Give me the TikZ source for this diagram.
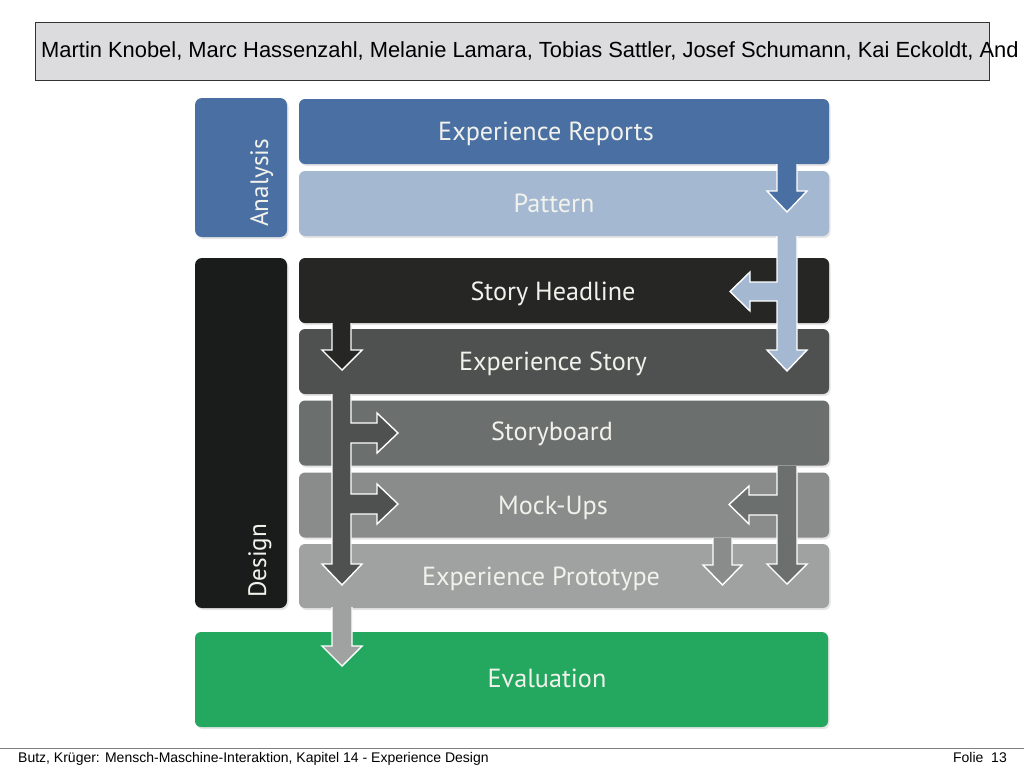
\documentclass[tikz,border=0pt]{standalone}
\usepackage{fontspec}
\setmainfont{Liberation Sans}
\newfontfamily\diagfont{PT Sans}
\usetikzlibrary{shadows, calc}
\definecolor{reportblue}{RGB}{74,111,163}
\definecolor{patternblue}{RGB}{164,185,209}
\definecolor{headlinegray}{RGB}{38,39,37}
\definecolor{storygray}{RGB}{78,81,80}
\definecolor{boardgray}{RGB}{107,111,110}
\definecolor{mockgray}{RGB}{137,140,139}
\definecolor{protogray}{RGB}{160,162,161}
\definecolor{designblack}{RGB}{26,28,27}
\definecolor{evalgreen}{RGB}{36,168,96}
\definecolor{titlegray}{RGB}{220,220,222}
\definecolor{labelwhite}{RGB}{242,242,236}

\begin{document}
\begin{tikzpicture}[x=1pt, y=-1pt,
    stage/.style={rounded corners=6pt, inner sep=0pt, minimum width=530pt, minimum height=65pt,
        drop shadow={opacity=0.2, shadow xshift=1.5pt, shadow yshift=-2pt}},
    phase/.style={rounded corners=7pt, inner sep=0pt, minimum width=92pt,
        drop shadow={opacity=0.2, shadow xshift=1.5pt, shadow yshift=-2pt}},
    stagelbl/.style={inner sep=0pt, text=labelwhite, text height=18pt, text depth=0pt, font=\diagfont\fontsize{26.2}{30}\selectfont},
    phaselbl/.style={inner sep=0pt, text=labelwhite, rotate=90, anchor=base west, font=\diagfont\fontsize{25.2}{28}\selectfont},
    flow/.style={draw=white, line width=1.4pt, line join=miter}]
        \useasboundingbox (0,0) rectangle (1024,768);
        \fill[white] (0,0) rectangle (1024,768);

        % title bar
        \node[draw=black!80, line width=1.2pt, fill=titlegray, inner sep=0pt, minimum width=954pt, minimum height=58pt, anchor=north west] (titlebox) at (35,22) {};
        \node[anchor=base west, inner sep=0pt, font=\fontsize{21.9}{24}\selectfont] (titletext) at (41,57.5) {Martin Knobel, Marc Hassenzahl, Melanie Lamara, Tobias Sattler, Josef Schumann, Kai Eckoldt, And};

        % phases on the left
        \node[phase, fill=reportblue, minimum height=139pt] (analysis) at (241,167.5) {};
        \node[phase, fill=designblack, minimum height=350pt] (design) at (241,433) {};
        \node[phaselbl] (analysisT) at (268,227) {Analysis};
        \node[phaselbl] (designT) at (266,598) {Design};

        % stages
        \node[stage, fill=reportblue] (reports) at (564,131.5) {};
        \node[stage, fill=patternblue] (pattern) at (564,203.5) {};
        \node[stage, fill=headlinegray] (headline) at (564,290.5) {};
        \node[stage, fill=storygray] (story) at (564,361.5) {};
        \node[stage, fill=boardgray] (board) at (564,433) {};
        \node[stage, fill=mockgray] (mockups) at (564,505) {};
        \node[stage, fill=protogray, minimum height=64pt] (proto) at (564,576) {};
        \node[stage, fill=evalgreen, minimum width=633pt, minimum height=95pt] (eval) at (511.5,679.5) {};

        \node[stagelbl] (reportsT) at (546,131) {Experience Reports};
        \node[stagelbl] (patternT) at (554,203) {Pattern};
        \node[stagelbl] (headlineT) at (553,291) {Story Headline};
        \node[stagelbl] (storyT) at (553,361) {Experience Story};
        \node[stagelbl] (boardT) at (552,431) {Storyboard};
        \node[stagelbl] (mockupsT) at (553,505) {Mock-Ups};
        \node[stagelbl] (protoT) at (541,576) {Experience Prototype};
        \node[stagelbl] (evalT) at (547,678) {Evaluation};

        % block arrows
        \path[flow, fill=reportblue] (777,164) -- (777,191) -- (767,191) -- (787,212) -- (807,191) -- (797,191) -- (797,164);
        \path[flow, fill=patternblue] (777,236) -- (777,282) -- (750,282) -- (750,272) -- (730,291.5) -- (750,311) -- (750,301)
            -- (777,301) -- (777,350) -- (767,350) -- (787,371) -- (807,350) -- (797,350) -- (797,236);
        \path[flow, fill=headlinegray] (332,323) -- (332,350) -- (322,350) -- (342,370) -- (362,350) -- (351,350) -- (351,323);
        \path[flow, fill=storygray] (332,394) -- (332,564) -- (322,564) -- (342,585) -- (362,564) -- (351,564)
            -- (351,514) -- (377,514) -- (377,524) -- (398,504) -- (377,484) -- (377,494) -- (351,494)
            -- (351,443) -- (377,443) -- (377,453) -- (398,433) -- (377,413) -- (377,423) -- (351,423) -- (351,394);
        \path[flow, fill=boardgray] (797,466) -- (797,564) -- (807,564) -- (787,584) -- (767,564) -- (777,564)
            -- (777,515) -- (749,515) -- (749,524) -- (729,504.5) -- (749,486) -- (749,495) -- (777,495) -- (777,466);
        \path[flow, fill=mockgray] (713,538) -- (713,565) -- (703,565) -- (722.5,585) -- (742,565) -- (732,565) -- (732,538);
        \path[flow, fill=protogray] (332,607) -- (332,646) -- (322,646) -- (342,666) -- (362,646) -- (352,646) -- (352,607);

        % footer
        \coordinate (footL) at (0,748);
        \coordinate (footR) at (1024,748);
        \draw[black!50, line width=1pt] (footL) -- (footR);
        \node[anchor=base west, inner sep=0pt, font=\fontsize{14}{16}\selectfont] (footer) at (18,762) {Butz, Krüger: Mensch-Maschine-Interaktion, Kapitel 14 - Experience Design};
        \node[anchor=base east, inner sep=0pt, font=\fontsize{14}{16}\selectfont] (folie) at (1007,762) {Folie\ \ 13};
\end{tikzpicture}
\end{document}
